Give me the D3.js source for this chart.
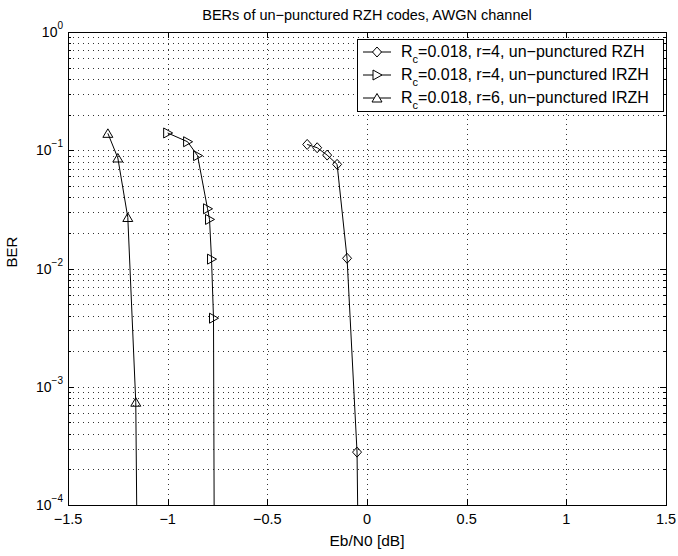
<!DOCTYPE html>
<html>
<head>
<meta charset="utf-8">
<script src="https://cdn.jsdelivr.net/npm/d3@7"></script>
<style>
    body { margin: 0; background: #fff; }
    text { font-family: "Liberation Sans", Arial, sans-serif; fill: #000; }
</style>
</head>
<body>
<div id="chart"></div>
<script>
// значения (Eb/N0 в дБ, BER в лог. масштабе)
// последняя точка в каждой серии лежит ниже оси и видна только как линия
var ebn0Rzh4 = [-0.3, -0.25, -0.2, -0.15, -0.1, -0.05, -0.04];
var berRzh4 = [0.112, 0.105, 0.091, 0.076, 0.0122, 0.00028, 0.00001];

var ebn0Irzh4 = [-1.0, -0.9, -0.85, -0.8, -0.79, -0.78, -0.77, -0.765];
var berIrzh4 = [0.14, 0.118, 0.09, 0.032, 0.026, 0.012, 0.0038, 0.00001];

var ebn0Irzh6 = [-1.3, -1.25, -1.2, -1.16, -1.15];
var berIrzh6 = [0.139, 0.086, 0.027, 0.00074, 0.00001];

var seriesNames = ["=0.018, r=4, un\u2212punctured RZH",
    "=0.018, r=4, un\u2212punctured IRZH",
    "=0.018, r=6, un\u2212punctured IRZH"];
var seriesMarkers = ["diamond", "triangleRight", "triangleUp"];

var xTicks = [-1.5, -1, -0.5, 0, 0.5, 1, 1.5];
var xTickLabels = ["\u22121.5", "\u22121", "\u22120.5", "0", "0.5", "1", "1.5"];
var yExponents = [0, -1, -2, -3, -4];

var width = 678,
    height = 556,
    margin = {left: 68, top: 32, right: 12, bottom: 51};

var svg = d3.select("#chart").append("svg")
    .attr("width", width)
    .attr("height", height);

var x = d3.scaleLinear().domain([-1.5, 1.5]).range([margin.left, width - margin.right]);
var y = d3.scaleLog().domain([1e-4, 1]).range([height - margin.bottom, margin.top]);

var x0 = x.range()[0], x1 = x.range()[1],
    y0 = y.range()[0], y1 = y.range()[1];

// минорные деления для логарифмической оси: 2..9 * 10^k
var yMinor = [];
yExponents.forEach(function (e) {
    if (e === 0) { return; }
    for (var m = 2; m <= 9; m += 1) {
        yMinor.push(m * Math.pow(10, e));
    }
});
var yMajor = yExponents.map(function (e) { return Math.pow(10, e); });

// сетка пунктиром
var grid = svg.append("g")
    .attr("stroke", "#333")
    .attr("stroke-width", 1)
    .attr("stroke-dasharray", "1,4");

grid.selectAll("line.h")
    .data(yMajor.concat(yMinor).filter(function (v) { return v > 1e-4 && v < 1; }))
    .enter().append("line")
    .attr("x1", x0).attr("x2", x1)
    .attr("y1", function (d) { return Math.round(y(d)) + 0.5; })
    .attr("y2", function (d) { return Math.round(y(d)) + 0.5; });

grid.selectAll("line.v")
    .data(xTicks.slice(1, -1))
    .enter().append("line")
    .attr("y1", y0).attr("y2", y1)
    .attr("x1", function (d) { return Math.round(x(d)) + 0.5; })
    .attr("x2", function (d) { return Math.round(x(d)) + 0.5; });

// деления по всем четырем сторонам (как box on в MATLAB)
var ticks = svg.append("g").attr("stroke", "#000").attr("stroke-width", 1);
xTicks.forEach(function (t) {
    var px = Math.round(x(t)) + 0.5;
    ticks.append("line").attr("x1", px).attr("x2", px).attr("y1", y0).attr("y2", y0 - 6);
    ticks.append("line").attr("x1", px).attr("x2", px).attr("y1", y1).attr("y2", y1 + 6);
});
yMajor.concat(yMinor).forEach(function (t) {
    var py = Math.round(y(t)) + 0.5,
        len = yMajor.indexOf(t) >= 0 ? 6 : 3;
    ticks.append("line").attr("x1", x0).attr("x2", x0 + len).attr("y1", py).attr("y2", py);
    ticks.append("line").attr("x1", x1).attr("x2", x1 - len).attr("y1", py).attr("y2", py);
});

svg.append("rect")
    .attr("x", x0 + 0.5).attr("y", y1 + 0.5)
    .attr("width", x1 - x0).attr("height", y0 - y1)
    .attr("fill", "none").attr("stroke", "#000").attr("stroke-width", 1);

// подписи делений
svg.selectAll("text.xt")
    .data(xTicks)
    .enter().append("text")
    .attr("x", function (d) { return x(d); })
    .attr("y", y0 + 19)
    .attr("text-anchor", "middle")
    .attr("font-size", 14.5)
    .text(function (d, i) { return xTickLabels[i]; });

yExponents.forEach(function (e) {
    var t = svg.append("text")
        .attr("x", x0 - 5)
        .attr("y", y(Math.pow(10, e)) + 5)
        .attr("text-anchor", "end")
        .attr("font-size", 14);
    t.append("tspan").text("10");
    t.append("tspan").attr("dy", -8).attr("font-size", 10)
        .text(e === 0 ? "0" : "\u2212" + (-e));
});

svg.append("text")
    .attr("x", (x0 + x1) / 2).attr("y", 20)
    .attr("text-anchor", "middle").attr("font-size", 14.5)
    .text("BERs of un\u2212punctured RZH codes, AWGN channel");

svg.append("text")
    .attr("x", (x0 + x1) / 2).attr("y", 546)
    .attr("text-anchor", "middle").attr("font-size", 15.5)
    .text("Eb/N0 [dB]");

svg.append("text")
    .attr("transform", "translate(17,252) rotate(-90)")
    .attr("text-anchor", "middle").attr("font-size", 15)
    .text("BER");

// маркеры
function markerPath(kind) {
    if (kind === "diamond") {
        return "M0,-5L4.5,0L0,5L-4.5,0Z";
    }
    if (kind === "triangleRight") {
        return "M-4,-5L5,0L-4,5Z";
    }
    return "M0,-4.5L5,4L-5,4Z";
}

svg.append("clipPath").attr("id", "plotClip")
    .append("rect")
    .attr("x", x0).attr("y", y1)
    .attr("width", x1 - x0 + 1).attr("height", y0 - y1 + 1);

var plot = svg.append("g").attr("clip-path", "url(#plotClip)");
var line = d3.line()
    .x(function (d) { return x(d[0]); })
    .y(function (d) { return y(d[1]); });

var allSeries = [
    d3.zip(ebn0Rzh4, berRzh4),
    d3.zip(ebn0Irzh4, berIrzh4),
    d3.zip(ebn0Irzh6, berIrzh6)
];

allSeries.forEach(function (pts, i) {
    plot.append("path")
        .attr("d", line(pts))
        .attr("fill", "none")
        .attr("stroke", "#000")
        .attr("stroke-width", 1);
    plot.selectAll("path.m" + i)
        .data(pts)
        .enter().append("path")
        .attr("d", markerPath(seriesMarkers[i]))
        .attr("transform", function (d) { return "translate(" + x(d[0]) + "," + y(d[1]) + ")"; })
        .attr("fill", "none")
        .attr("stroke", "#000")
        .attr("stroke-width", 1);
});

// легенда
var legend = svg.append("g");
legend.append("rect")
    .attr("x", 357.5).attr("y", 39.5)
    .attr("width", 306).attr("height", 72)
    .attr("fill", "#fff").attr("stroke", "#000").attr("stroke-width", 1);

seriesNames.forEach(function (name, i) {
    var cy = 52 + i * 23;
    legend.append("line")
        .attr("x1", 363).attr("x2", 391)
        .attr("y1", cy).attr("y2", cy)
        .attr("stroke", "#000");
    legend.append("path")
        .attr("d", markerPath(seriesMarkers[i]))
        .attr("transform", "translate(377," + cy + ")")
        .attr("fill", "#fff").attr("stroke", "#000");
    var t = legend.append("text")
        .attr("x", 401).attr("y", cy + 5)
        .attr("font-size", 16);
    t.append("tspan").text("R");
    t.append("tspan").attr("dy", 6).attr("font-size", 11).text("c");
    t.append("tspan").attr("dy", -6).text(name);
});
</script>
</body>
</html>
